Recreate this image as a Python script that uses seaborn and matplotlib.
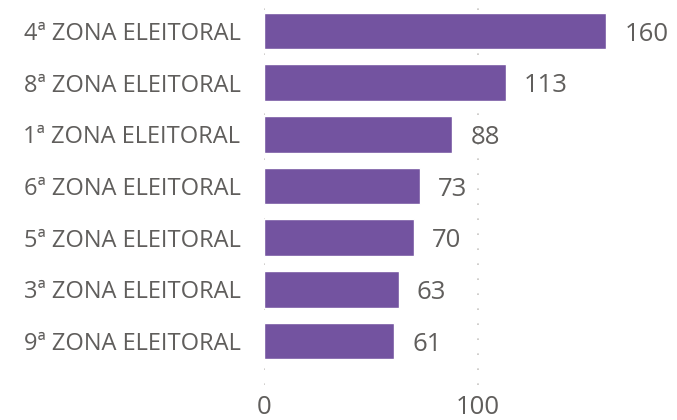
import numpy as np
import pandas as pd
import seaborn as sns
import matplotlib.pyplot as plt

zonas = ['4ª ZONA ELEITORAL', '8ª ZONA ELEITORAL', '1ª ZONA ELEITORAL',
         '6ª ZONA ELEITORAL', '5ª ZONA ELEITORAL', '3ª ZONA ELEITORAL',
         '9ª ZONA ELEITORAL']
valores = [160, 113, 88, 73, 70, 63, 61]
xticks = [0, 100]

cor_barra = '#7353A0'
cor_texto = '#605E5C'

sns.set_theme(style='white')
plt.rcParams['font.family'] = ['Open Sans', 'DejaVu Sans']

df = pd.DataFrame({'zona': zonas, 'valor': valores})

fig = plt.figure(figsize=(6.77, 4.2), dpi=100)
ax = fig.add_axes([264 / 677, 35 / 420, 1 - 264 / 677 - 0.01, 1 - 35 / 420])

sns.barplot(data=df, x='valor', y='zona', color=cor_barra, width=0.71,
            saturation=1, ax=ax)

for i, v in enumerate(valores):
    ax.text(v + 8.5, i, str(v), va='center_baseline', ha='left', fontsize=18.5,
            color=cor_texto)

ax.set_xlim(0, 190)
ax.set_ylim(len(zonas) - 0.15, -0.6)
ax.set_xticks(xticks)
ax.set_xlabel('')
ax.set_ylabel('')
for x in xticks:
    ax.axvline(x, color='#C8C6C4', linestyle=(0, (1, 8)), linewidth=1.2, zorder=0)
ax.tick_params(axis='x', labelsize=18.5, colors=cor_texto, length=0, pad=7)
ax.tick_params(axis='y', labelsize=17, colors=cor_texto, length=0, pad=17)
sns.despine(ax=ax, left=True, bottom=True)

fig.savefig('out.png', dpi=100)
